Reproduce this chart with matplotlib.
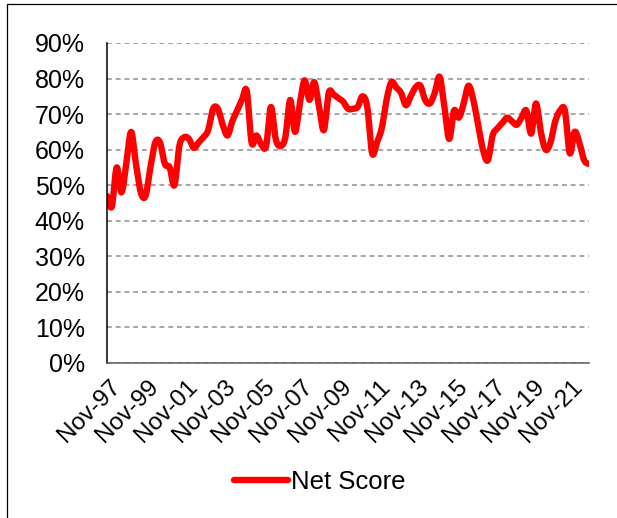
import numpy as np
import matplotlib
matplotlib.use("Agg")
import matplotlib.pyplot as plt
import matplotlib.transforms as mtransforms
from matplotlib.patches import Rectangle
from matplotlib.ticker import PercentFormatter

plt.rcParams['font.family'] = ['Liberation Sans', 'DejaVu Sans']

# quarterly net score, Nov-97 .. Nov-22 (percent)
net_score = [
    47, 44, 55, 48, 56, 65, 56, 48, 47, 55,
    62, 62, 56, 55, 50, 61, 63.5, 63, 60.5, 62,
    63.5, 65.5, 71.5, 71.5, 67, 64, 68, 71, 74, 76.5,
    62, 64, 61.5, 61, 72, 63, 61, 63.5, 74, 65,
    73, 79.5, 74, 79, 72, 65.5, 76, 75.5, 74.5, 73.5,
    71.5, 71.5, 72, 75, 72, 59, 62, 66, 74, 79,
    77.5, 76, 72.5, 75, 77.5, 78, 74, 73, 76, 80.5,
    72, 63, 71, 69, 73, 78, 74, 67, 60, 57,
    64, 66, 67.5, 69, 68, 67, 69, 71, 64.5, 73,
    65, 60, 62, 68, 71, 71, 59, 65, 62, 57,
    56,
]
tick_labels = ["Nov-97", "Nov-99", "Nov-01", "Nov-03", "Nov-05", "Nov-07", "Nov-09",
               "Nov-11", "Nov-13", "Nov-15", "Nov-17", "Nov-19", "Nov-21"]
y_ticks = [0, 10, 20, 30, 40, 50, 60, 70, 80, 90]


def catmull_rom(x, y, n=12):
    # smoothed line like the spreadsheet "smoothed line" option
    x = np.asarray(x, float)
    y = np.asarray(y, float)
    px = np.concatenate([[x[0]], x, [x[-1]]])
    py = np.concatenate([[y[0]], y, [y[-1]]])
    xs, ys = [], []
    t = np.linspace(0, 1, n, endpoint=False)
    for i in range(1, len(px) - 2):
        for arr, out in ((px, xs), (py, ys)):
            p0, p1, p2, p3 = arr[i - 1], arr[i], arr[i + 1], arr[i + 2]
            out.extend(0.5 * ((2 * p1) + (-p0 + p2) * t
                              + (2 * p0 - 5 * p1 + 4 * p2 - p3) * t ** 2
                              + (-p0 + 3 * p1 - 3 * p2 + p3) * t ** 3))
    xs.append(x[-1])
    ys.append(y[-1])
    return np.array(xs), np.array(ys)


x = np.arange(len(net_score))
sx, sy = catmull_rom(x, net_score)

fig = plt.figure(figsize=(6.17, 5.18), dpi=100)
ax = fig.add_axes([107 / 617, 1 - 363 / 518, (589 - 107) / 617, (363 - 43) / 518])

ax.plot(sx, sy, color='#FF0000', lw=4.6, solid_capstyle='round', label='Net Score')

ax.set_xlim(0, len(net_score) - 1)
ax.set_ylim(0, 90)
ax.set_yticks(y_ticks)
ax.yaxis.set_major_formatter(PercentFormatter(decimals=0))
ax.set_xticks(np.arange(len(tick_labels)) * 8)
ax.set_xticklabels(tick_labels, rotation=45, ha='right', va='top', rotation_mode='anchor')
ax.tick_params(axis='both', length=0)
ax.tick_params(axis='y', pad=16, labelsize=18)
ax.tick_params(axis='x', pad=9, labelsize=17.5)
shift = mtransforms.ScaledTranslation(2 / 100, 0, fig.dpi_scale_trans)
for lab in ax.get_xticklabels():
    lab.set_transform(lab.get_transform() + shift)

ax.grid(axis='y', color='#A6A6A6', lw=1.4, dashes=(2.5, 2))
ax.set_axisbelow(True)
for s in ['top', 'right']:
    ax.spines[s].set_visible(False)
ax.spines['left'].set_color('black')
ax.spines['left'].set_linewidth(1.1)
ax.spines['bottom'].set_color('#595959')
ax.spines['bottom'].set_linewidth(1.1)

fig.legend(loc='center', bbox_to_anchor=(0.519, 1 - 482 / 518), frameon=False,
           fontsize=18.5, handlelength=2.1, handletextpad=0.12)

# chart area border
fig.patches.append(Rectangle((7 / 617, -0.1), 2, 1.1 - 4 / 518, transform=fig.transFigure,
                             fill=False, edgecolor='black', lw=0.9))

fig.savefig('out.png', dpi=100)
